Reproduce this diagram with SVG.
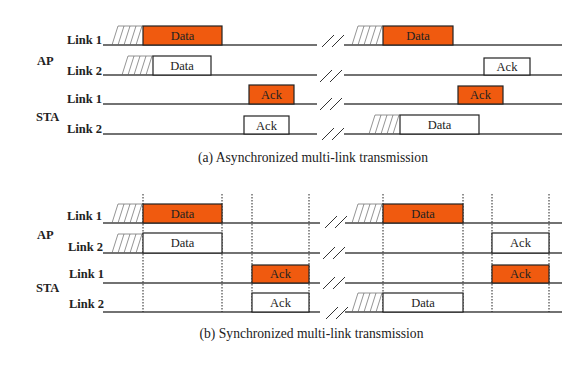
<svg xmlns="http://www.w3.org/2000/svg" width="586" height="369" viewBox="0 0 586 369">
<style>
.bg{fill:#fff}
.lbl{font-family:"Liberation Serif","Times New Roman",serif;font-weight:bold;font-size:12.5px;fill:#222}
.cap{font-family:"Liberation Serif","Times New Roman",serif;font-size:13.6px;fill:#222}
.bt{font-family:"Liberation Serif","Times New Roman",serif;font-size:12.5px;fill:#222;text-anchor:middle}
.ln{stroke:#444;stroke-width:1.3;fill:none}
.sl{stroke:#333;stroke-width:1;fill:none}
.or{fill:#F05A0F;stroke:#222;stroke-width:1.2}
.wh{fill:#fff;stroke:#222;stroke-width:1.2}
.ht{stroke:#666;stroke-width:0.7;fill:none}
.dt{stroke:#222;stroke-width:1;stroke-dasharray:1.5,1.5;fill:none}
</style>
<defs>
<g id="hatch">
<path class="ht" d="M6,-19 H31 M0,0 L6,-19 M6,0 L12,-19 M12,0 L18,-19 M18,0 L24,-19 M24,0 L30,-19"/>
</g>
<g id="brk">
<path class="sl" d="M0,6 L12,-6 M10,6 L22,-6"/>
</g>
</defs>
<rect class="bg" width="586" height="369"/>

<!-- (a) -->
<g id="a-labels">
<text class="lbl" x="37" y="65">AP</text>
<text class="lbl" x="36" y="121">STA</text>
<text class="lbl" x="102" y="44" text-anchor="end">Link 1</text>
<text class="lbl" x="102" y="75" text-anchor="end">Link 2</text>
<text class="lbl" x="102" y="103" text-anchor="end">Link 1</text>
<text class="lbl" x="102" y="133" text-anchor="end">Link 2</text>
</g>
<g id="a-connectors">
<path class="ln" d="M103,45 H317 M344,45 H562 M103,75 H317 M344,75 H562 M103,104 H317 M344,104 H562 M103,134 H317 M344,134 H562"/>
<use href="#brk" x="322" y="41"/>
<use href="#brk" x="320" y="76"/>
<use href="#brk" x="320" y="104"/>
<use href="#brk" x="322" y="134"/>
</g>
<g id="a-ap1-data1">
<use href="#hatch" x="112" y="45"/>
<rect class="or" x="143" y="26" width="79" height="19"/>
<text class="bt" x="182.5" y="40">Data</text>
</g>
<g id="a-ap2-data1">
<use href="#hatch" x="122" y="75"/>
<rect class="wh" x="153" y="56" width="58" height="19"/>
<text class="bt" x="182" y="70">Data</text>
</g>
<g id="a-sta1-ack1">
<rect class="or" x="249" y="85" width="45" height="19"/>
<text class="bt" x="271.5" y="99">Ack</text>
</g>
<g id="a-sta2-ack1">
<rect class="wh" x="244" y="116" width="45" height="18"/>
<text class="bt" x="266.5" y="130">Ack</text>
</g>
<g id="a-ap1-data2">
<use href="#hatch" x="352" y="45"/>
<rect class="or" x="383" y="26" width="70" height="19"/>
<text class="bt" x="418" y="40">Data</text>
</g>
<g id="a-ap2-ack2">
<rect class="wh" x="484" y="58" width="46" height="17"/>
<text class="bt" x="507" y="71">Ack</text>
</g>
<g id="a-sta1-ack2">
<rect class="or" x="458" y="86" width="45" height="18"/>
<text class="bt" x="480.5" y="99">Ack</text>
</g>
<g id="a-sta2-data2">
<use href="#hatch" x="369" y="134"/>
<rect class="wh" x="400" y="115" width="79" height="19"/>
<text class="bt" x="439.5" y="129">Data</text>
</g>
<text class="cap" x="313" y="162" text-anchor="middle">(a) Asynchronized multi-link transmission</text>

<!-- (b) -->
<g id="b-labels">
<text class="lbl" x="37" y="239">AP</text>
<text class="lbl" x="36" y="292">STA</text>
<text class="lbl" x="102" y="220" text-anchor="end">Link 1</text>
<text class="lbl" x="103" y="251" text-anchor="end">Link 2</text>
<text class="lbl" x="104" y="278" text-anchor="end">Link 1</text>
<text class="lbl" x="104" y="308" text-anchor="end">Link 2</text>
</g>
<g id="b-connectors">
<path class="ln" d="M103,223 H320 M345,223 H562 M103,253 H320 M345,253 H562 M103,283 H320 M345,283 H562 M103,312 H320 M345,312 H562"/>
<use href="#brk" x="325" y="222"/>
<use href="#brk" x="323" y="253"/>
<use href="#brk" x="323" y="283"/>
<use href="#brk" x="326" y="313"/>
<path class="dt" d="M143,194 V312 M222,194 V312 M252,194 V312 M309,194 V312 M383,194 V312 M463,194 V312 M492,194 V312 M549,194 V312"/>
</g>
<g id="b-ap1-data1">
<use href="#hatch" x="112" y="223"/>
<rect class="or" x="143" y="204" width="79" height="19"/>
<text class="bt" x="182.5" y="218">Data</text>
</g>
<g id="b-ap2-data1">
<use href="#hatch" x="112" y="253"/>
<rect class="wh" x="143" y="233" width="79" height="20"/>
<text class="bt" x="182.5" y="247">Data</text>
</g>
<g id="b-sta1-ack1">
<rect class="or" x="252" y="265" width="57" height="18"/>
<text class="bt" x="280.5" y="278">Ack</text>
</g>
<g id="b-sta2-ack1">
<rect class="wh" x="252" y="293" width="57" height="19"/>
<text class="bt" x="280.5" y="307">Ack</text>
</g>
<g id="b-ap1-data2">
<use href="#hatch" x="352" y="223"/>
<rect class="or" x="383" y="204" width="80" height="19"/>
<text class="bt" x="423" y="218">Data</text>
</g>
<g id="b-ap2-ack2">
<rect class="wh" x="492" y="233" width="57" height="20"/>
<text class="bt" x="520.5" y="247">Ack</text>
</g>
<g id="b-sta1-ack2">
<rect class="or" x="492" y="265" width="57" height="18"/>
<text class="bt" x="520.5" y="278">Ack</text>
</g>
<g id="b-sta2-data2">
<use href="#hatch" x="352" y="312"/>
<rect class="wh" x="383" y="293" width="80" height="19"/>
<text class="bt" x="423" y="307">Data</text>
</g>
<text class="cap" x="311.5" y="338" text-anchor="middle">(b) Synchronized multi-link transmission</text>
</svg>
